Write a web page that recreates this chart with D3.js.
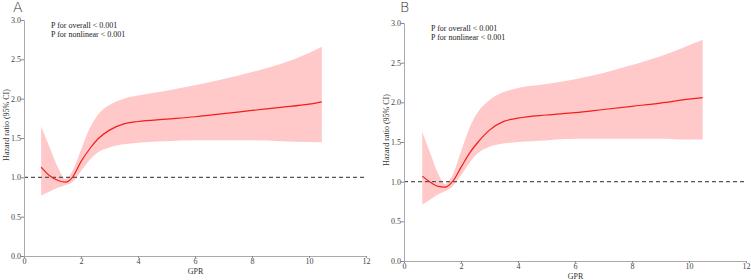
<!DOCTYPE html>
<html>
<head>
<meta charset="utf-8">
<script src="https://cdn.jsdelivr.net/npm/d3@7"></script>
<style>
  body { margin: 0; background: #fff; }
  svg text { font-family: "Liberation Serif", "DejaVu Serif", serif; }
</style>
</head>
<body>
<div class="div-chart"></div>
<script>
// GPR grid and estimates
const gprA = [0.6, 0.9, 1.2, 1.45, 1.7, 2.0, 2.3, 2.6, 3.0, 3.5, 4.0, 5, 6, 7, 8, 9, 10, 10.45];
const hrA = [1.13, 1.02, 0.96, 0.94, 1.00, 1.20, 1.36, 1.49, 1.60, 1.68, 1.71, 1.74, 1.77, 1.81, 1.85, 1.89, 1.93, 1.96];
const upperA = [1.65, 1.38, 1.12, 0.98, 1.08, 1.35, 1.62, 1.80, 1.92, 2.00, 2.04, 2.10, 2.17, 2.25, 2.34, 2.44, 2.58, 2.66];
const lowerA = [0.77, 0.82, 0.87, 0.90, 0.94, 1.08, 1.22, 1.32, 1.38, 1.42, 1.44, 1.46, 1.47, 1.47, 1.47, 1.46, 1.45, 1.445];

const gprB = [0.64, 0.9, 1.2, 1.44, 1.7, 2.0, 2.3, 2.6, 3.0, 3.5, 4.0, 5, 6, 7, 8, 9, 10, 10.48];
const hrB = [1.07, 1.00, 0.94, 0.93, 1.00, 1.18, 1.36, 1.50, 1.65, 1.76, 1.80, 1.84, 1.87, 1.91, 1.95, 1.99, 2.04, 2.06];
const upperB = [1.63, 1.38, 1.10, 0.97, 1.08, 1.38, 1.68, 1.88, 2.03, 2.13, 2.18, 2.23, 2.29, 2.37, 2.47, 2.58, 2.72, 2.79];
const lowerB = [0.715, 0.77, 0.84, 0.88, 0.94, 1.08, 1.24, 1.36, 1.44, 1.48, 1.50, 1.52, 1.54, 1.54, 1.54, 1.54, 1.53, 1.53];

const xTicks = [0, 2, 4, 6, 8, 10, 12];
const yTicks = [0, 0.5, 1.0, 1.5, 2.0, 2.5, 3.0];
const pLines = ['P for overall < 0.001', 'P for nonlinear < 0.001'];

const width = 751, height = 280;

const svg = d3.select('.div-chart')
    .append('svg')
    .attr('width', width)
    .attr('height', height);

function drawPanel(label, gpr, hr, upper, lower, box) {
    const g = svg.append('g');

    const x = d3.scaleLinear().domain([0, 12]).range([box.x0, box.x1]);
    const y = d3.scaleLinear().domain([0, 3]).range([box.y0, box.y1]);

    const rows = gpr.map((v, i) => ({ x: v, hr: hr[i], lo: lower[i], hi: upper[i] }));

    // confidence band
    g.append('path')
        .datum(rows)
        .attr('fill', '#ffc9c9')
        .attr('d', d3.area()
            .curve(d3.curveMonotoneX)
            .x(d => x(d.x))
            .y0(d => y(d.lo))
            .y1(d => y(d.hi)));

    // reference line HR = 1
    g.append('line')
        .attr('x1', x(0)).attr('x2', x(12))
        .attr('y1', y(1)).attr('y2', y(1))
        .attr('stroke', '#555')
        .attr('stroke-width', 1.2)
        .attr('stroke-dasharray', '4,3');

    // spline estimate
    g.append('path')
        .datum(rows)
        .attr('fill', 'none')
        .attr('stroke', '#f21d1d')
        .attr('stroke-width', 1.2)
        .attr('d', d3.line()
            .curve(d3.curveMonotoneX)
            .x(d => x(d.x))
            .y(d => y(d.hr)));

    // axes
    const xAxis = g.append('g')
        .attr('transform', `translate(0,${box.y0})`)
        .call(d3.axisBottom(x).tickValues(xTicks).tickSize(2).tickFormat(d3.format('d')));
    const yAxis = g.append('g')
        .attr('transform', `translate(${box.x0},0)`)
        .call(d3.axisLeft(y).tickValues(yTicks).tickSize(3).tickFormat(d3.format('.1f')));

    [xAxis, yAxis].forEach(a => {
        a.style('color', '#555');
        a.select('.domain').attr('stroke', '#aaa');
        a.selectAll('.tick line').attr('stroke', '#888');
        a.selectAll('.tick text')
            .attr('fill', '#444')
            .style('font-size', '8px')
            .style('font-family', '"Liberation Serif", serif');
    });
    xAxis.selectAll('.tick text').attr('y', 2);
    yAxis.selectAll('.tick text').attr('x', -3);

    // axis titles
    g.append('text')
        .attr('x', (x(0) + x(12)) / 2 + 0.5)
        .attr('y', box.y0 + box.gy)
        .attr('text-anchor', 'middle')
        .attr('fill', '#333')
        .style('font-size', '8px')
        .text('GPR');

    g.append('text')
        .attr('transform', `translate(${box.x0 - 15},${box.ly}) rotate(-90)`)
        .attr('text-anchor', 'middle')
        .attr('fill', '#333')
        .style('font-size', '8px')
        .text('Hazard ratio (95% CI)');

    // p-values
    pLines.forEach((t, i) => {
        g.append('text')
            .attr('x', box.x0 + 27)
            .attr('y', box.y1 + 8 + i * 8.6)
            .attr('fill', '#222')
            .style('font-size', '8px')
            .text(t);
    });

    // panel letter
    g.append('text')
        .attr('x', box.lx)
        .attr('y', box.ltop)
        .attr('fill', '#333')
        .style('font-family', '"DejaVu Sans", sans-serif')
        .style('font-weight', '300')
        .style('font-size', '14px')
        .text(label);
}

drawPanel('A', gprA, hrA, upperA, lowerA, { x0: 24, x1: 366, y0: 256, y1: 20, ly: 125, lx: 13, ltop: 12, gy: 17.5 });
drawPanel('B', gprB, hrB, upperB, lowerB, { x0: 404, x1: 746, y0: 261, y1: 23, ly: 130, lx: 400, ltop: 12, gy: 17.5 });
</script>
</body>
</html>
